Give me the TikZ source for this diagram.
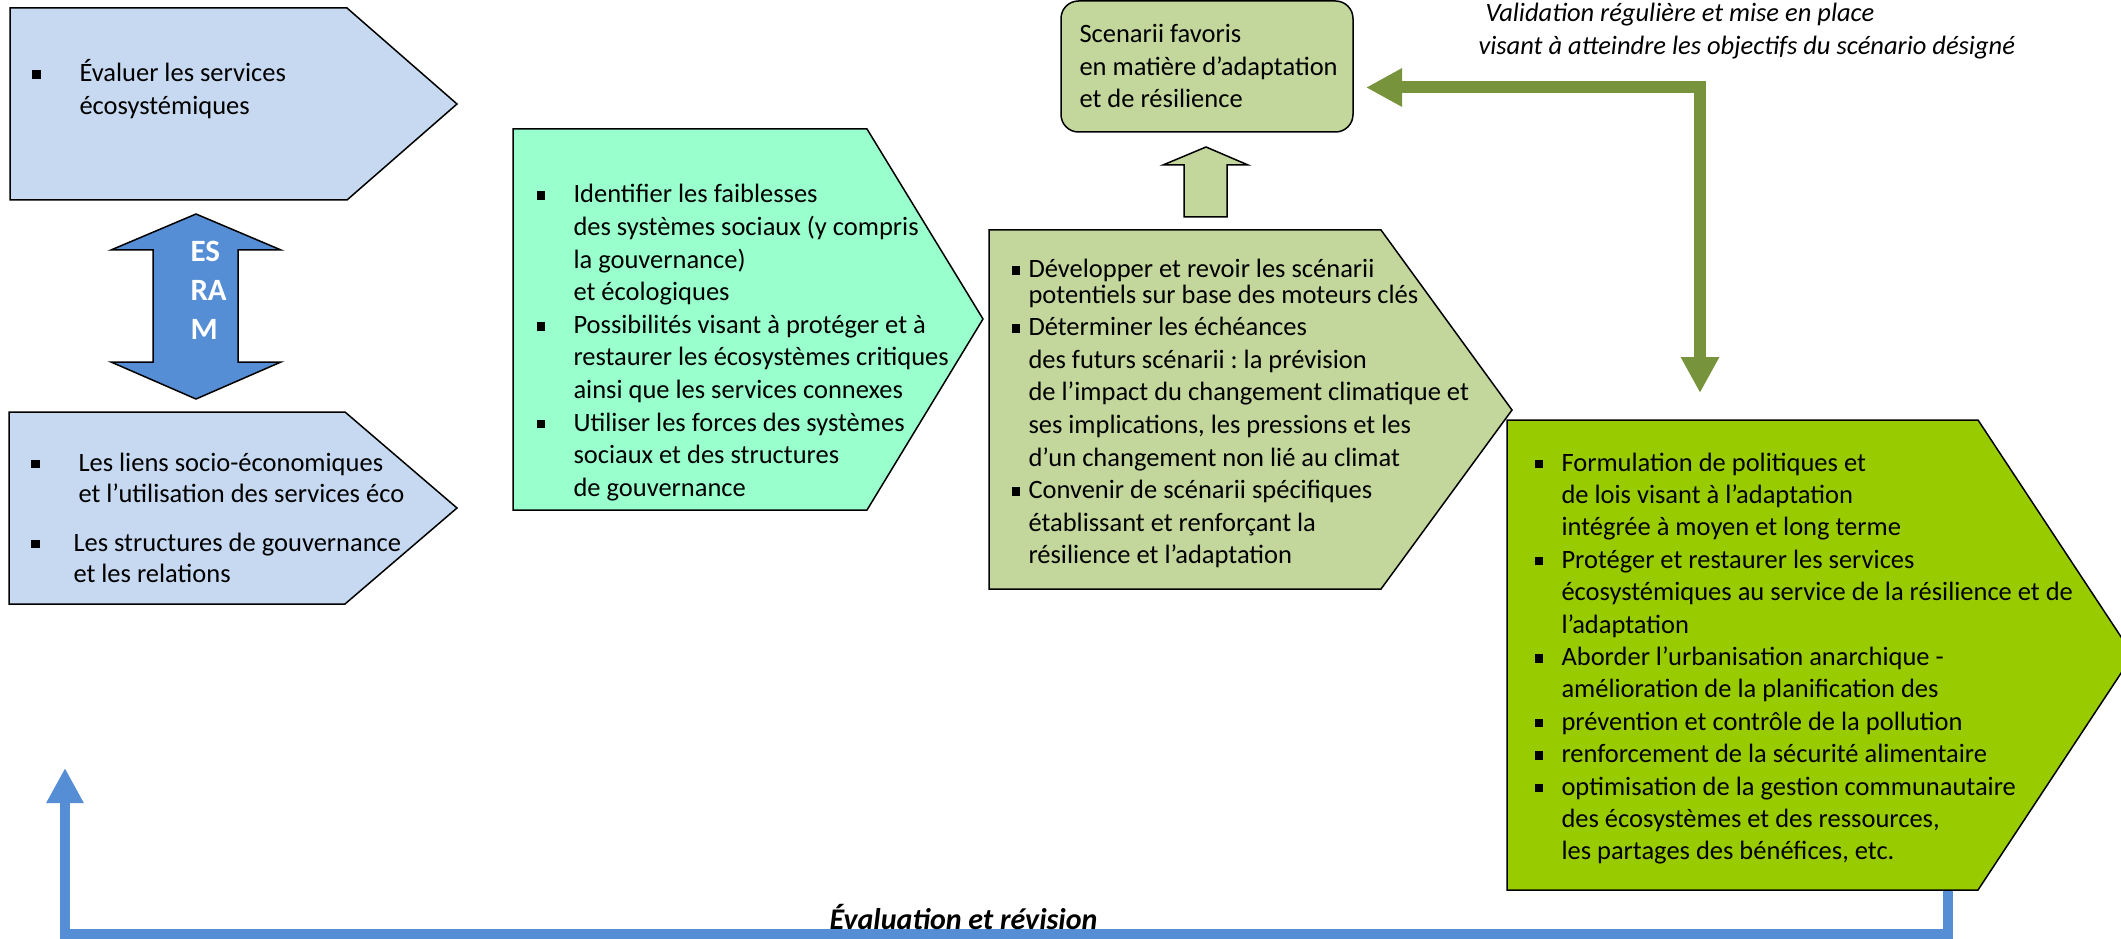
\documentclass[tikz,border=0pt]{standalone}
\usepackage{fontspec}
\setmainfont{Carlito}
\usetikzlibrary{arrows.meta}
\definecolor{lblue}{HTML}{C6D9F1}
\definecolor{mblue}{HTML}{558ED5}
\definecolor{mint}{HTML}{99FFCC}
\definecolor{sage}{HTML}{C3D69B}
\definecolor{limeg}{HTML}{99CC00}
\definecolor{dgreen}{HTML}{77933C}
\frenchspacing
\newcommand{\bul}{\rule[1.1pt]{3.5pt}{3.5pt}}
\newcommand{\blist}[2]{\begin{tabular}[t]{@{}p{#1}@{}l@{}}#2\end{tabular}}
\newcommand{\plain}[1]{\begin{tabular}[t]{@{}l@{}}#1\end{tabular}}
\begin{document}
\begin{tikzpicture}[x=0.4pt,y=-0.4pt,
  shapebox/.style={draw=black, line width=0.6pt, line join=miter},
  txt/.style={anchor=base west, inner sep=0pt, font=\fontsize{10.6}{13.04}\selectfont},
  garrow/.style={draw=dgreen, line width=4.8pt, line join=miter,
    {Triangle[length=14.4pt,width=14.4pt]}-{Triangle[length=14.4pt,width=14.4pt]}},
  barrow/.style={draw=mblue, line width=4pt, line join=miter,
    -{Triangle[length=14pt,width=14pt]}}]
\useasboundingbox (0,0) rectangle (2121,939);

% feedback connector (under boxes)
\coordinate (b5s) at (1948,885);
\coordinate (fbA) at (1948,934);
\coordinate (fbB) at (65,934);
\coordinate (fbEnd) at (65,768);
\draw[barrow] (b5s) -- (fbA) -- (fbB) -- (fbEnd);

% Box 1
\filldraw[shapebox, fill=lblue] (10,8) -- (347,8) -- (457,104) -- (347,200) -- (10,200) -- cycle;
\node[txt] (t1) at (32,82) {\blist{18.8pt}{\bul & Évaluer les services\\ & écosystémiques}};

% ESRAM double arrow
\filldraw[shapebox, fill=mblue] (196,214) -- (281,250) -- (238,250) -- (238,362) -- (281,362)
  -- (196,399) -- (111,362) -- (153,362) -- (153,250) -- (111,250) -- cycle;
\node[txt, font=\fontsize{12.4}{15.4}\selectfont\bfseries, text=white] (esram) at (190,262)
  {\plain{ES\\RA\\M}};

% Box 2
\filldraw[shapebox, fill=lblue] (9,412) -- (345,412) -- (457,508) -- (345,604) -- (9,604) -- cycle;
\node[txt, font=\fontsize{10.6}{12.4}\selectfont] (t2) at (31,471)
  {\blist{16.8pt}{\bul & \hspace*{2pt}Les liens socio-économiques\\
   & \hspace*{2pt}et l’utilisation des services éco\\[7.2pt]
   \bul & Les structures de gouvernance\\
   & et les relations}};

% Box 3
\filldraw[shapebox, fill=mint] (513,129) -- (867,129) -- (983,319) -- (867,510) -- (513,510) -- cycle;
\node[txt] (t3) at (536,203)
  {\blist{14.8pt}{\bul & Identifier les faiblesses\\
   & des systèmes sociaux (y compris\\
   & la gouvernance)\\
   & et écologiques\\
   \bul & Possibilités visant à protéger et à\\
   & restaurer les écosystèmes critiques\\
   & ainsi que les services connexes\\
   \bul & Utiliser les forces des systèmes\\
   & sociaux et des structures\\
   & de gouvernance}};

% Scenarii box
\node[shapebox, fill=sage, rounded corners=7pt, minimum width=116.8pt, minimum height=52.4pt,
  inner sep=0pt] (scen) at (1207,66.5) {};
\node[txt, font=\fontsize{10.6}{13}\selectfont] (tscen) at (1079,43)
  {\plain{Scenarii favoris\\ en matière d’adaptation\\ et de résilience}};

% up arrow
\filldraw[shapebox, fill=sage] (1206,147) -- (1248,165) -- (1227,165) -- (1227,217) -- (1184,217)
  -- (1184,165) -- (1163,165) -- cycle;

% Box 4
\filldraw[shapebox, fill=sage] (989,230) -- (1381,230) -- (1512,410) -- (1381,589) -- (989,589) -- cycle;
\node[txt] (t4) at (1011,278)
  {\blist{6.8pt}{\bul & Développer et revoir les scénarii\\[-3pt]
   & potentiels sur base des moteurs clés\\
   \bul & Déterminer les échéances\\
   & des futurs scénarii : la prévision\\
   & de l’impact du changement climatique et\\
   & ses implications, les pressions et les\\
   & d’un changement non lié au climat\\
   \bul & Convenir de scénarii spécifiques\\
   & établissant et renforçant la\\
   & résilience et l’adaptation}};

% Box 5
\filldraw[shapebox, fill=limeg] (1507,420) -- (1978,420) -- (2133,655) -- (1978,890) -- (1507,890) -- cycle;
\node[txt, font=\fontsize{10.6}{12.96}\selectfont] (t5) at (1534,471)
  {\blist{10.8pt}{\bul & Formulation de politiques et\\
   & de lois visant à l’adaptation\\
   & intégrée à moyen et long terme\\
   \bul & Protéger et restaurer les services\\
   & écosystémiques au service de la résilience et de\\
   & l’adaptation\\
   \bul & Aborder l’urbanisation anarchique -\\
   & amélioration de la planification des\\
   \bul & prévention et contrôle de la pollution\\
   \bul & renforcement de la sécurité alimentaire\\
   \bul & optimisation de la gestion communautaire\\
   & des écosystèmes et des ressources,\\
   & les partages des bénéfices, etc.}};

% green validation connector
\coordinate (gL) at (1366,87.5);
\coordinate (gC) at (1700,87.5);
\coordinate (gD) at (1700,393);
\draw[garrow] (gL) -- (gC) -- (gD);
\node[txt, font=\fontsize{10.6}{13.2}\selectfont\itshape] (tval) at (1478,22)
  {\plain{\hspace*{2.8pt}Validation régulière et mise en place\\
   visant à atteindre les objectifs du scénario désigné}};

% evaluation label
\node[anchor=base east, inner sep=0pt, font=\fontsize{12}{14}\selectfont\bfseries\itshape] (teval)
  at (1098,929) {Évaluation et révision};
\end{tikzpicture}
\end{document}
